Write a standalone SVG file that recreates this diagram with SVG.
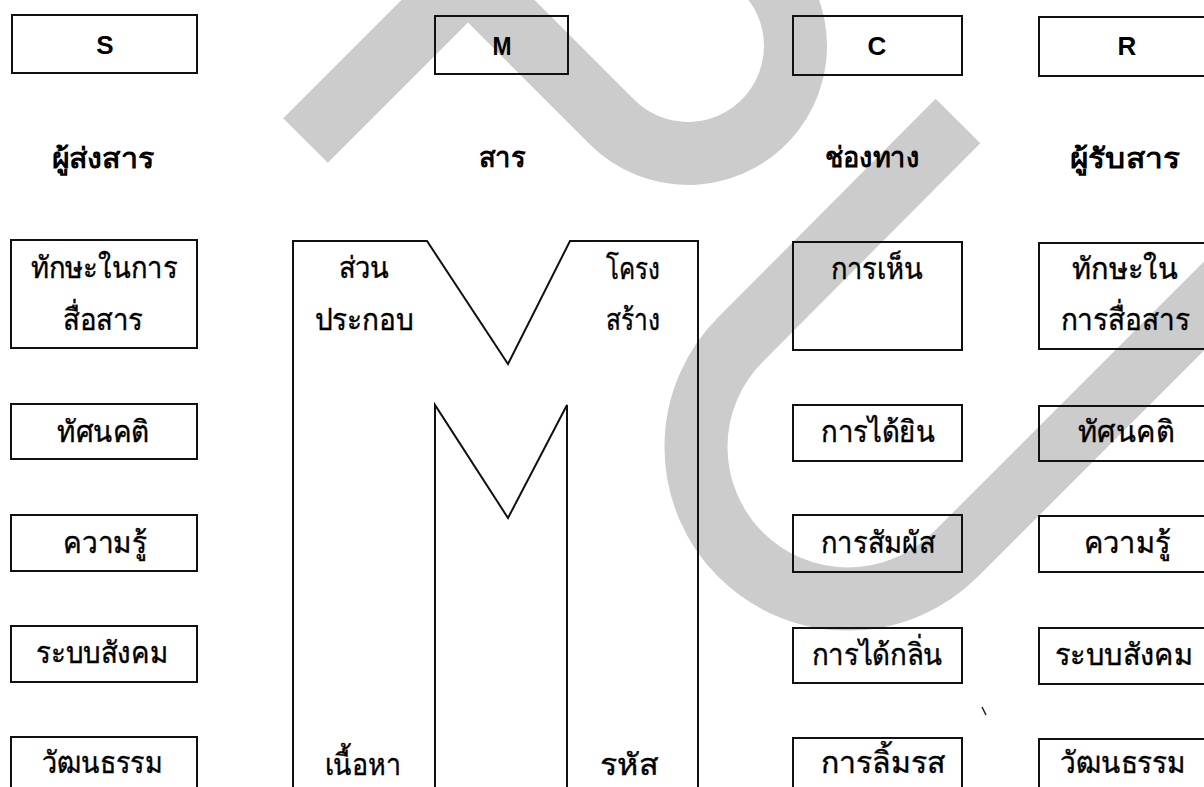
<svg xmlns="http://www.w3.org/2000/svg" width="1204" height="787" viewBox="0 0 1204 787">
<style>
.bx{fill:none;stroke:#111;stroke-width:2}
.ln{fill:none;stroke:#111;stroke-width:2;stroke-linejoin:miter}
.t{font-family:"Noto Sans","DejaVu Sans",sans-serif;font-size:30px;fill:#000;stroke:#000;stroke-width:0.4;text-anchor:middle}
.h{font-family:"Noto Sans","DejaVu Sans",sans-serif;font-size:28px;font-weight:bold;fill:#000;text-anchor:middle}
.l{font-family:"Liberation Sans",Arial,sans-serif;font-size:26px;font-weight:bold;fill:#000;text-anchor:middle}
.wm{fill:none;stroke:#cccccc;stroke-width:63;stroke-linejoin:miter;stroke-miterlimit:10}
</style>
<rect width="1204" height="787" fill="#fff"/>
<g id="watermark">
<path class="wm" d="M305.5,140.5 L468,-22 L612,122 A107.5,107.5 0 1 0 742,-47"/>
<path class="wm" d="M958,121 L740.5,339.5 A152,152 0 0 0 955.5,554.5 L1320,190"/>
<line x1="982" y1="707" x2="986" y2="715" stroke="#222" stroke-width="1.5"/>
</g>
<g id="connectors"/>
<g id="node-S"><rect class="bx" x="12" y="15" width="185" height="58"/><text class="l" x="105" y="54">S</text></g>
<g id="node-M"><rect class="bx" x="435" y="16" width="133" height="58"/><text class="l" x="502" y="55" font-size="27" textLength="19" lengthAdjust="spacingAndGlyphs">M</text></g>
<g id="node-C"><rect class="bx" x="793" y="16" width="169" height="59"/><text class="l" x="877" y="55">C</text></g>
<g id="node-R"><rect class="bx" x="1039" y="17" width="180" height="59"/><text class="l" x="1127" y="55">R</text></g>
<g id="headers">
<text class="h" x="103" y="168" textLength="103" lengthAdjust="spacingAndGlyphs">ผู้ส่งสาร</text>
<text class="h" x="502" y="167" textLength="47" lengthAdjust="spacingAndGlyphs">สาร</text>
<text class="h" x="872" y="167" textLength="95" lengthAdjust="spacingAndGlyphs">ช่องทาง</text>
<text class="h" x="1125" y="168" textLength="110" lengthAdjust="spacingAndGlyphs">ผู้รับสาร</text>
</g>
<g id="s-skill"><rect class="bx" x="11" y="240" width="186" height="108"/><text class="t" x="104" y="278" textLength="147" lengthAdjust="spacingAndGlyphs">ทักษะในการ</text><text class="t" x="103" y="330" textLength="80" lengthAdjust="spacingAndGlyphs">สื่อสาร</text></g>
<g id="s-attitude"><rect class="bx" x="11" y="404" width="186" height="55"/><text class="t" x="103" y="442" textLength="92" lengthAdjust="spacingAndGlyphs">ทัศนคติ</text></g>
<g id="s-knowledge"><rect class="bx" x="11" y="515" width="186" height="56"/><text class="t" x="105" y="553" textLength="84" lengthAdjust="spacingAndGlyphs">ความรู้</text></g>
<g id="s-social"><rect class="bx" x="11" y="626" width="186" height="56"/><text class="t" x="102" y="663" textLength="132" lengthAdjust="spacingAndGlyphs">ระบบสังคม</text></g>
<g id="s-culture"><rect class="bx" x="11" y="737" width="186" height="70"/><text class="t" x="102" y="773" textLength="121" lengthAdjust="spacingAndGlyphs">วัฒนธรรม</text></g>
<g id="m-structure">
<path class="ln" d="M293,800 L293,241 L427,241 L508,364 L570,241 L698,241 L698,800"/>
<path class="ln" d="M435,800 L435,405 L508,518 L567,405 L567,800"/>
<text class="t" x="364" y="278" textLength="51" lengthAdjust="spacingAndGlyphs">ส่วน</text>
<text class="t" x="364" y="330" textLength="99" lengthAdjust="spacingAndGlyphs">ประกอบ</text>
<text class="t" x="633" y="279" textLength="54" lengthAdjust="spacingAndGlyphs">โครง</text>
<text class="t" x="633" y="330" textLength="54" lengthAdjust="spacingAndGlyphs">สร้าง</text>
<text class="t" x="363" y="775" textLength="77" lengthAdjust="spacingAndGlyphs">เนื้อหา</text>
<text class="t" x="629" y="775" textLength="58" lengthAdjust="spacingAndGlyphs">รหัส</text>
</g>
<g id="c-see"><rect class="bx" x="793" y="242" width="169" height="108"/><text class="t" x="877" y="279" textLength="93" lengthAdjust="spacingAndGlyphs">การเห็น</text></g>
<g id="c-hear"><rect class="bx" x="793" y="405" width="169" height="56"/><text class="t" x="878" y="442" textLength="114" lengthAdjust="spacingAndGlyphs">การได้ยิน</text></g>
<g id="c-touch"><rect class="bx" x="793" y="515" width="169" height="57"/><text class="t" x="878" y="553" textLength="114" lengthAdjust="spacingAndGlyphs">การสัมผัส</text></g>
<g id="c-smell"><rect class="bx" x="793" y="628" width="169" height="55"/><text class="t" x="877" y="665" textLength="131" lengthAdjust="spacingAndGlyphs">การได้กลิ่น</text></g>
<g id="c-taste"><rect class="bx" x="793" y="738" width="169" height="70"/><text class="t" x="883" y="773" textLength="124" lengthAdjust="spacingAndGlyphs">การลิ้มรส</text></g>
<g id="r-skill"><rect class="bx" x="1039" y="243" width="180" height="106"/><text class="t" x="1125" y="279" textLength="106" lengthAdjust="spacingAndGlyphs">ทักษะใน</text><text class="t" x="1125" y="330" textLength="129" lengthAdjust="spacingAndGlyphs">การสื่อสาร</text></g>
<g id="r-attitude"><rect class="bx" x="1039" y="406" width="180" height="55"/><text class="t" x="1126" y="442" textLength="96" lengthAdjust="spacingAndGlyphs">ทัศนคติ</text></g>
<g id="r-knowledge"><rect class="bx" x="1039" y="516" width="180" height="56"/><text class="t" x="1127" y="553" textLength="87" lengthAdjust="spacingAndGlyphs">ความรู้</text></g>
<g id="r-social"><rect class="bx" x="1039" y="628" width="180" height="56"/><text class="t" x="1124" y="665" textLength="138" lengthAdjust="spacingAndGlyphs">ระบบสังคม</text></g>
<g id="r-culture"><rect class="bx" x="1039" y="739" width="180" height="70"/><text class="t" x="1123" y="773" textLength="126" lengthAdjust="spacingAndGlyphs">วัฒนธรรม</text></g>
</svg>
